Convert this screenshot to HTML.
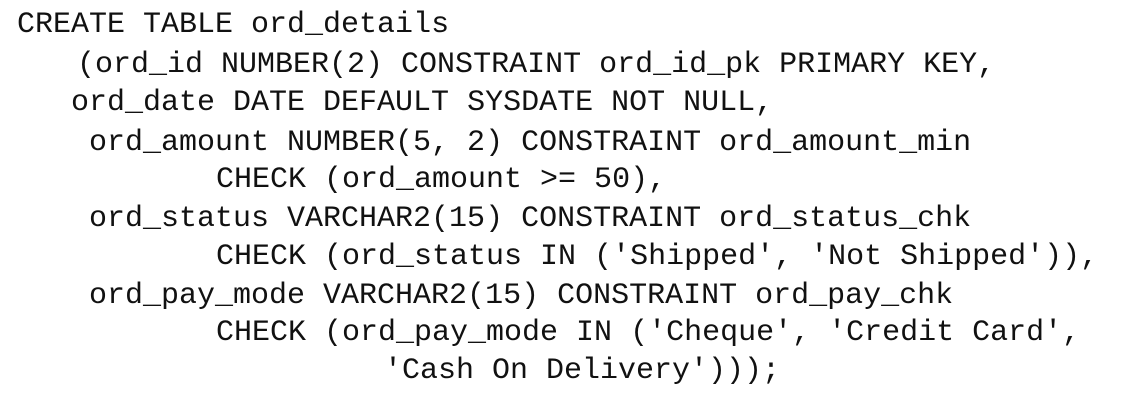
<!DOCTYPE html>
<html><head><style>
body{margin:0;width:1125px;height:409px;background:#fff;overflow:hidden;position:relative}
div{position:absolute;font-family:"Liberation Mono",monospace;font-size:30px;line-height:38px;color:#111;white-space:pre}
</style></head><body>
<div style="left:17px;top:6px">CREATE TABLE ord_details</div>
<div style="left:77px;top:46px">(ord_id NUMBER(2) CONSTRAINT ord_id_pk PRIMARY KEY,</div>
<div style="left:71px;top:84px">ord_date DATE DEFAULT SYSDATE NOT NULL,</div>
<div style="left:89px;top:124px">ord_amount NUMBER(5, 2) CONSTRAINT ord_amount_min</div>
<div style="left:216px;top:161px">CHECK (ord_amount &gt;= 50),</div>
<div style="left:89px;top:200px">ord_status VARCHAR2(15) CONSTRAINT ord_status_chk</div>
<div style="left:216px;top:238px">CHECK (ord_status IN ('Shipped', 'Not Shipped')),</div>
<div style="left:89px;top:277px">ord_pay_mode VARCHAR2(15) CONSTRAINT ord_pay_chk</div>
<div style="left:216px;top:314px">CHECK (ord_pay_mode IN ('Cheque', 'Credit Card',</div>
<div style="left:384px;top:352px">'Cash On Delivery')));</div>
</body></html>
